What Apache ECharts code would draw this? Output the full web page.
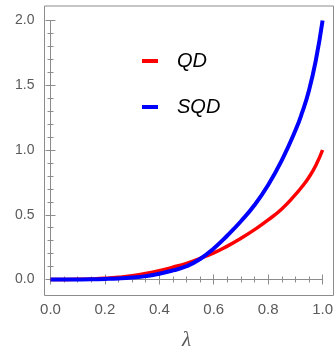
<!DOCTYPE html>
<html><head><meta charset="utf-8">
<script src="https://cdn.jsdelivr.net/npm/echarts@6/dist/echarts.min.js"></script>
<style>html,body{margin:0;padding:0;background:#fff}#c{width:336px;height:356px}</style>
</head><body><div id="c"></div>
<script>
const lambda = [0,0.05,0.1,0.15,0.2,0.25,0.3,0.35,0.4,0.45,0.5,0.55,0.6,0.65,0.7,0.75,0.8,0.85,0.9,0.925,0.95,0.975,1.0];
const qd  = [0,0.0002,0.0012,0.004,0.009,0.017,0.029,0.046,0.068,0.095,0.125,0.163,0.205,0.258,0.318,0.385,0.46,0.545,0.655,0.718,0.79,0.88,1.0];
const sqd = [0,0,0.0004,0.0015,0.004,0.008,0.015,0.026,0.044,0.07,0.103,0.158,0.24,0.34,0.45,0.575,0.73,0.92,1.15,1.29,1.46,1.69,2.0];
const seriesNames = ['QD','SQD'];
const xTicks = {min:0, max:1, interval:0.2};
const yTicks = {min:0, max:2, interval:0.5};

const frameColor = '#8c8c8c';
const labelColor = '#5a5a5a';
function axisCommon(show){ return {
  axisLine:{show:true, lineStyle:{color:frameColor, width:1}},
  axisTick:{show:true, inside:true, length:5, lineStyle:{color:frameColor}},
  minorTick:{show:true, length:3, lineStyle:{color:frameColor}},
  splitLine:{show:false}, minorSplitLine:{show:false},
  axisLabel:{show:show, color:labelColor, fontFamily:'Liberation Sans, Arial, sans-serif',
    formatter:v=>v.toFixed(1)}
};}
const chart = echarts.init(document.getElementById('c'), null, {renderer:'canvas'});
chart.setOption({
  animation:false,
  grid:[
    {left:50.5, top:20.5, right:7, bottom:75, show:false},
    {left:44.5, top:6, right:2.5, bottom:60.5, show:true, borderColor:frameColor, borderWidth:1, backgroundColor:'transparent'}
  ],
  xAxis:[
    Object.assign({type:'value', gridIndex:0, position:'bottom', offset:14.5, min:xTicks.min, max:xTicks.max, interval:xTicks.interval,
      name:'λ', nameLocation:'middle', nameGap:36,
      nameTextStyle:{fontSize:21, fontStyle:'italic', color:labelColor, fontFamily:'Liberation Serif, serif'}}, axisCommon(true),
      {minorTick:{show:true, splitNumber:4, length:3, lineStyle:{color:frameColor}},
       axisLabel:{show:true, color:labelColor, fontSize:15, margin:8, fontFamily:'Liberation Sans, Arial, sans-serif', formatter:v=>v.toFixed(1)}}),
    Object.assign({type:'value', gridIndex:0, position:'top', offset:14.5, min:xTicks.min, max:xTicks.max, interval:xTicks.interval}, axisCommon(false),
      {minorTick:{show:true, splitNumber:4, length:3, lineStyle:{color:frameColor}}}),
    {type:'value', gridIndex:1, show:false, min:0, max:1}
  ],
  yAxis:[
    Object.assign({type:'value', gridIndex:0, position:'left', offset:6, min:yTicks.min, max:yTicks.max, interval:yTicks.interval}, axisCommon(true),
      {minorTick:{show:true, splitNumber:5, length:3, lineStyle:{color:frameColor}},
       axisLabel:{show:true, color:labelColor, fontSize:14, margin:10, fontFamily:'Liberation Sans, Arial, sans-serif', formatter:v=>v.toFixed(1)}}),
    Object.assign({type:'value', gridIndex:0, position:'right', offset:4.5, min:yTicks.min, max:yTicks.max, interval:yTicks.interval}, axisCommon(false),
      {minorTick:{show:true, splitNumber:5, length:3, lineStyle:{color:frameColor}}}),
    {type:'value', gridIndex:1, show:false, min:0, max:1}
  ],
  legend:{
    orient:'vertical', left:137, top:46, itemGap:26,
    itemWidth:30, itemHeight:4,
    icon:'path://M0,0h16v4h-16z M30,0L30,4',
    textStyle:{fontSize:20, fontStyle:'italic', color:'#000', fontFamily:'Liberation Sans, Arial, sans-serif'},
    data:seriesNames
  },
  series:[
    {name:seriesNames[0], type:'line', xAxisIndex:0, yAxisIndex:0, clip:false, showSymbol:false, smooth:0.5,
     lineStyle:{color:'#ff0000', width:3.5}, itemStyle:{color:'#ff0000'},
     data:lambda.map((x,i)=>[x,qd[i]])},
    {name:seriesNames[1], type:'line', xAxisIndex:0, yAxisIndex:0, clip:false, showSymbol:false, smooth:0.5,
     lineStyle:{color:'#0000ff', width:4}, itemStyle:{color:'#0000ff'},
     data:lambda.map((x,i)=>[x,sqd[i]])}
  ]
});
</script></body></html>
